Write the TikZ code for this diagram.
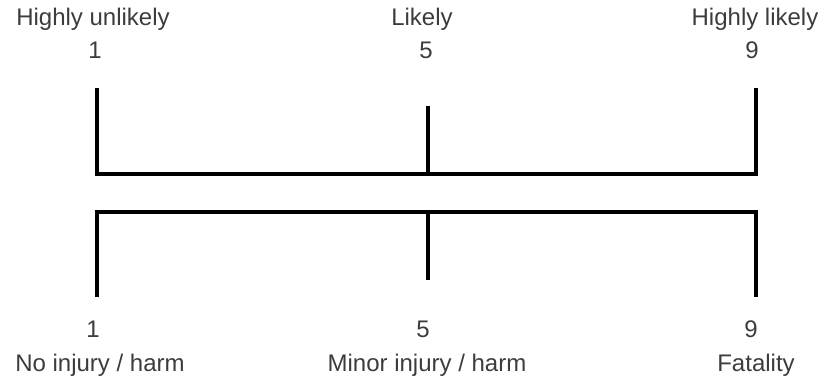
\documentclass[tikz,border=0pt]{standalone}
\usepackage{fontspec}
\setmainfont{Liberation Sans}
\definecolor{txtgray}{RGB}{60,60,60}
\begin{document}
\begin{tikzpicture}[x=1pt,y=-1pt,
  lbl/.style={anchor=base,inner sep=0pt,text=txtgray,font=\fontsize{24}{28}\selectfont},
  scaleline/.style={line width=4pt,line join=miter,line cap=butt,black}]
\useasboundingbox (0,0) rectangle (821,377);
% top labels
\node[lbl] (tl) at (93,26) {Highly unlikely};
\node[lbl] (tm) at (422,26) {Likely};
\node[lbl] (tr) at (755,26) {Highly likely};
\node[lbl] (tl1) at (95,59) {1};
\node[lbl] (tm5) at (426,59) {5};
\node[lbl] (tr9) at (752,59) {9};
% bottom labels
\node[lbl] (bl1) at (93,337) {1};
\node[lbl] (bm5) at (423,337) {5};
\node[lbl] (br9) at (751,337) {9};
\node[lbl] (bl) at (100,371) {No injury / harm};
\node[lbl] (bm) at (427,371) {Minor injury / harm};
\node[lbl] (br) at (756,371) {Fatality};
% top scale
\coordinate (ta) at (97,88);
\coordinate (tb) at (97,174);
\coordinate (tc) at (755.5,174);
\coordinate (td) at (755.5,88);
\coordinate (tmt) at (428,106);
\coordinate (tmb) at (428,174);
\draw[scaleline] (ta) -- (tb) -- (tc) -- (td);
\draw[scaleline] (tmt) -- (tmb);
% bottom scale
\coordinate (ba) at (97,297);
\coordinate (bb) at (97,212);
\coordinate (bc) at (755.5,212);
\coordinate (bd) at (755.5,297);
\coordinate (bmt) at (428,212);
\coordinate (bmb) at (428,280);
\draw[scaleline] (ba) -- (bb) -- (bc) -- (bd);
\draw[scaleline] (bmt) -- (bmb);
\end{tikzpicture}
\end{document}
